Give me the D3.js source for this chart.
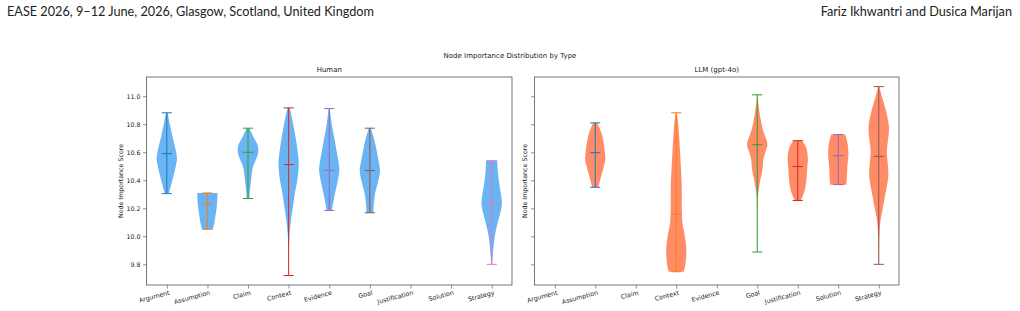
<!DOCTYPE html>
<html>
<head>
<meta charset="utf-8">
<script src="https://cdn.jsdelivr.net/npm/d3@7"></script>
<style>
  body { margin: 0; background: #fff; }
  svg text { fill: #222; }
</style>
</head>
<body>
<script>
// canvas size
const width = 1020, height = 311;

// categories on the x axis (both panels)
const categories = ["Argument", "Assumption", "Claim", "Context", "Evidence", "Goal", "Justification", "Solution", "Strategy"];
const yTicks = [9.8, 10.0, 10.2, 10.4, 10.6, 10.8, 11.0];

// Human: extrema and centre line (null = no data)
const humanMin    = [10.305, 10.05, 10.27, 9.72, 10.185, 10.168, null, null, 9.80];
const humanMax    = [10.882, 10.31, 10.772, 10.917, 10.912, 10.772, null, null, 10.54];
const humanCenter = [10.59, 10.229, 10.60, 10.512, 10.471, 10.469, null, null, 10.241];

// LLM (gpt-4o): extrema and centre line
const llmMin    = [null, 10.35, null, 9.747, null, 9.888, 10.256, 10.369, 9.80];
const llmMax    = [null, 10.81, null, 10.882, null, 11.01, 10.683, 10.727, 11.069];
const llmCenter = [null, 10.597, null, 10.158, null, 10.654, 10.498, 10.576, 10.571];

// violin outlines: [score, relative half width]
const humanShapes = [
  [[10.882, 0.08], [10.8, 0.3], [10.7, 0.6], [10.6, 0.92], [10.55, 1.0], [10.5, 0.88], [10.4, 0.55], [10.305, 0.2]],
  [[10.31, 1.0], [10.25, 0.97], [10.2, 0.9], [10.15, 0.8], [10.1, 0.7], [10.05, 0.52]],
  [[10.772, 0.15], [10.7, 0.6], [10.65, 0.95], [10.6, 1.0], [10.55, 0.8], [10.5, 0.5], [10.4, 0.3], [10.3, 0.15], [10.27, 0.12]],
  [[10.917, 0.12], [10.8, 0.45], [10.7, 0.7], [10.6, 0.9], [10.52, 1.0], [10.4, 0.85], [10.3, 0.6], [10.2, 0.4], [10.1, 0.2], [10.0, 0.08], [9.9, 0.03], [9.8, 0.01], [9.72, 0.0]],
  [[10.912, 0.05], [10.8, 0.25], [10.7, 0.5], [10.6, 0.75], [10.5, 0.98], [10.47, 1.0], [10.4, 0.85], [10.3, 0.55], [10.185, 0.25]],
  [[10.772, 0.1], [10.7, 0.4], [10.6, 0.7], [10.5, 0.95], [10.47, 1.0], [10.4, 0.85], [10.3, 0.5], [10.2, 0.36], [10.168, 0.35]],
  null,
  null,
  [[10.54, 0.55], [10.45, 0.62], [10.35, 0.8], [10.25, 1.0], [10.2, 0.95], [10.1, 0.6], [10.0, 0.3], [9.9, 0.15], [9.80, 0.05]]
];
const llmShapes = [
  null,
  [[10.81, 0.2], [10.75, 0.55], [10.7, 0.75], [10.6, 0.95], [10.55, 1.0], [10.5, 0.85], [10.42, 0.55], [10.35, 0.3]],
  null,
  [[10.882, 0.05], [10.8, 0.2], [10.7, 0.3], [10.6, 0.38], [10.5, 0.45], [10.4, 0.52], [10.3, 0.55], [10.2, 0.55], [10.1, 0.6], [10.05, 0.72], [10.0, 0.85], [9.9, 1.0], [9.8, 0.9], [9.747, 0.75]],
  null,
  [[11.01, 0.0], [10.95, 0.1], [10.85, 0.3], [10.75, 0.6], [10.68, 0.95], [10.65, 1.0], [10.6, 0.8], [10.55, 0.6], [10.5, 0.55], [10.45, 0.45], [10.4, 0.3], [10.3, 0.08], [10.2, 0.02], [10.0, 0.005], [9.888, 0.0]],
  [[10.683, 0.45], [10.63, 0.85], [10.55, 1.0], [10.5, 0.95], [10.4, 0.85], [10.33, 0.7], [10.28, 0.45], [10.256, 0.3]],
  [[10.727, 0.7], [10.65, 0.95], [10.58, 1.0], [10.5, 0.9], [10.42, 0.85], [10.369, 0.8]],
  [[11.069, 0.05], [11.0, 0.3], [10.9, 0.7], [10.8, 0.98], [10.75, 1.0], [10.65, 0.85], [10.6, 0.8], [10.55, 0.85], [10.45, 0.95], [10.4, 0.9], [10.3, 0.65], [10.2, 0.4], [10.1, 0.15], [10.0, 0.06], [9.9, 0.03], [9.80, 0.02]]
];

// matplotlib tab10 cycle for the line colours
const tab10 = ["#1f77b4", "#ff7f0e", "#2ca02c", "#d62728", "#9467bd", "#8c564b", "#e377c2", "#7f7f7f", "#bcbd22", "#17becf"];

const svg = d3.select("body").append("svg")
  .attr("width", width)
  .attr("height", height)
  .style("font-family", "'DejaVu Sans', sans-serif");

// page header (paper running head)
svg.append("text")
  .attr("x", 7).attr("y", 16)
  .style("font-family", "'Linux Biolinum O', Lato, 'Open Sans', sans-serif")
  .style("font-size", "12.7px")
  .text("EASE 2026, 9–12 June, 2026, Glasgow, Scotland, United Kingdom");
svg.append("text")
  .attr("x", 1012).attr("y", 16)
  .attr("text-anchor", "end")
  .style("font-family", "'Linux Biolinum O', Lato, 'Open Sans', sans-serif")
  .style("font-size", "12.7px")
  .text("Fariz Ikhwantri and Dusica Marijan");

// figure title
svg.append("text")
  .attr("x", 510).attr("y", 57.5)
  .attr("text-anchor", "middle")
  .style("font-size", "7px")
  .text("Node Importance Distribution by Type");

const yScale = d3.scaleLinear()
  .domain([9.6525, 11.1375])
  .range([285, 77]);

const panels = [
  { title: "Human", left: 146.5, right: 512, showLabels: true, fill: "#6ab4f4",
    mins: humanMin, maxs: humanMax, centers: humanCenter, shapes: humanShapes },
  { title: "LLM (gpt-4o)", left: 534.5, right: 899, showLabels: false, fill: "#ff8c66",
    mins: llmMin, maxs: llmMax, centers: llmCenter, shapes: llmShapes }
];

panels.forEach(p => {
  const xScale = d3.scaleLinear().domain([0.5, 9.5]).range([p.left, p.right]);
  const g = svg.append("g");
  const top = yScale.range()[1], bottom = yScale.range()[0];

  // subplot title
  g.append("text")
    .attr("x", (p.left + p.right) / 2).attr("y", top - 5)
    .attr("text-anchor", "middle")
    .style("font-size", "7px")
    .text(p.title);

  // y axis
  const yAxis = g.append("g")
    .attr("transform", `translate(${p.left},0)`)
    .call(d3.axisLeft(yScale).tickValues(yTicks).tickSize(3.5).tickPadding(2.5)
      .tickFormat(p.showLabels ? d3.format(".1f") : () => ""));
  yAxis.select(".domain").remove();
  yAxis.selectAll("line").attr("stroke", "#444").attr("stroke-width", 0.6);
  yAxis.selectAll("text").style("font-size", "6.3px").style("font-family", "'DejaVu Sans', sans-serif").attr("fill", "#222");

  // y label
  g.append("text")
    .attr("transform", `translate(${p.left - (p.showLabels ? 24 : 8)},${(top + bottom) / 2}) rotate(-90)`)
    .attr("text-anchor", "middle")
    .style("font-size", "6.3px")
    .text("Node Importance Score");

  // x axis with rotated labels
  const xAxis = g.append("g")
    .attr("transform", `translate(0,${bottom})`)
    .call(d3.axisBottom(xScale).tickValues(d3.range(1, 10)).tickSize(3.5).tickPadding(2)
      .tickFormat(i => categories[i - 1]));
  xAxis.select(".domain").remove();
  xAxis.selectAll("line").attr("stroke", "#444").attr("stroke-width", 0.6);
  xAxis.selectAll("text")
    .style("font-size", "6.3px")
    .style("font-family", "'DejaVu Sans', sans-serif")
    .attr("fill", "#222")
    .attr("text-anchor", "end")
    .attr("dy", "0.7em")
    .attr("transform", "rotate(-15)");

  // violins
  let colorIdx = 0;
  categories.forEach((cat, i) => {
    const shape = p.shapes[i];
    if (!shape) return;
    const pos = i + 1;
    const color = tab10[colorIdx++];
    const half = (xScale(1.25) - xScale(1));

    const area = d3.area()
      .y(d => yScale(d[0]))
      .x0(d => xScale(pos) - d[1] * half)
      .x1(d => xScale(pos) + d[1] * half)
      .curve(d3.curveCatmullRom);

    g.append("path")
      .datum(shape)
      .attr("d", area)
      .attr("fill", p.fill)
      .attr("stroke", "none");

    const cx = xScale(pos);
    const cap = half / 2;
    // vertical bar
    g.append("line")
      .attr("x1", cx).attr("x2", cx)
      .attr("y1", yScale(p.mins[i])).attr("y2", yScale(p.maxs[i]))
      .attr("stroke", color).attr("stroke-width", 1);
    // caps and centre line
    [p.mins[i], p.maxs[i], p.centers[i]].forEach(v => {
      g.append("line")
        .attr("x1", cx - cap).attr("x2", cx + cap)
        .attr("y1", yScale(v)).attr("y2", yScale(v))
        .attr("stroke", color).attr("stroke-width", 1);
    });
  });

  // frame
  g.append("rect")
    .attr("x", p.left).attr("y", top)
    .attr("width", p.right - p.left).attr("height", bottom - top)
    .attr("fill", "none")
    .attr("stroke", "#555")
    .attr("stroke-width", 0.8);
});
</script>
</body>
</html>
